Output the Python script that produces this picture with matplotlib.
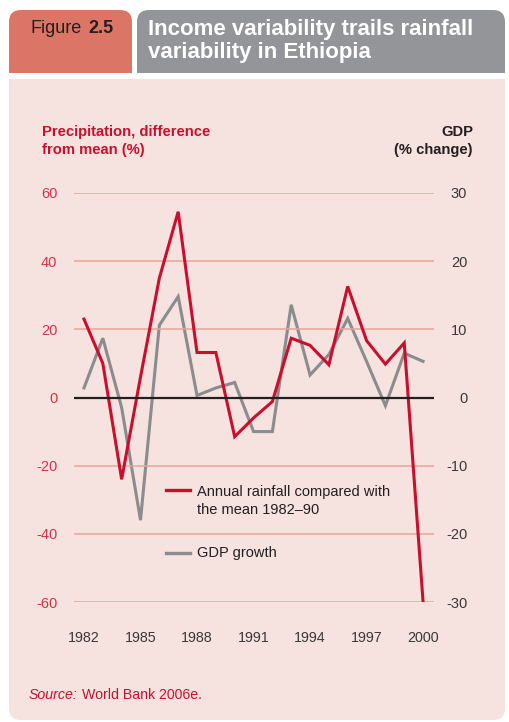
import matplotlib
matplotlib.use("Agg")
import matplotlib.pyplot as plt
from matplotlib.patches import FancyBboxPatch, Rectangle

plt.rcParams["font.family"] = ["Liberation Sans", "DejaVu Sans"]
plt.rcParams["axes.unicode_minus"] = False

# ---- data ----
years = list(range(1982, 2001))
rainfall = [23, 10, -24, 6, 35, 54.5, 13.2, 13.2, -11.5, -6, -1.2, 17.4, 15.3, 9.6,
            32.6, 16.7, 9.8, 16, -60]
gdp = [1.4, 8.7, -1.5, -18, 10.6, 14.8, 0.3, 1.4, 2.2, -5, -5, 13.6, 3.3, 6.3,
       11.6, 5.3, -1.2, 6.5, 5.3]
left_ticks = [-60, -40, -20, 0, 20, 40, 60]
right_ticks = [-30, -20, -10, 0, 10, 20, 30]
x_ticks = [1982, 1985, 1988, 1991, 1994, 1997, 2000]

W, H = 509, 722
RED = "#C8102E"
TICKRED = "#D2334A"
GRAY = "#8A8C8E"
DARK = "#3A3838"
PINK = "#F6E2DE"
GRID = "#E8A597"

fig = plt.figure(figsize=(W / 100, H / 100), dpi=100)
fig.patch.set_facecolor("white")
renderer = fig.canvas.get_renderer()

# background axes in pixel coordinates
bg = fig.add_axes([0, 0, 1, 1])
bg.set_xlim(0, W)
bg.set_ylim(H, 0)
bg.axis("off")


def chain(x, y, parts, **kw):
    """Place text pieces one after another on one baseline (pixel coords)."""
    for txt, extra, gap in parts:
        t = bg.text(x, y, txt, va="baseline", ha="left", **kw, **extra)
        bb = t.get_window_extent(renderer)
        x += bb.width + gap


# header tabs
bg.add_patch(FancyBboxPatch((9, 10), 123, 63, boxstyle="round,pad=0,rounding_size=12",
                            fc="#DB7667", ec="none"))
bg.add_patch(Rectangle((9, 40), 123, 33, fc="#DB7667", ec="none"))
bg.add_patch(FancyBboxPatch((137, 10), 368, 63, boxstyle="round,pad=0,rounding_size=12",
                            fc="#939598", ec="none"))
bg.add_patch(Rectangle((137, 40), 368, 33, fc="#939598", ec="none"))
# pink body
bg.add_patch(FancyBboxPatch((9, 79), 496, 641, boxstyle="round,pad=0,rounding_size=12",
                            fc=PINK, ec="none"))
bg.add_patch(Rectangle((9, 79), 496, 40, fc=PINK, ec="none"))

chain(31, 33, [("Figure", {}, 6), ("2.5", {"fontweight": "bold"}, 0)],
      fontsize=13, color="#231F20")
bg.text(148, 41, "Income variability trails rainfall\nvariability in Ethiopia",
        fontsize=16, color="white", fontweight="bold", va="center", ha="left",
        linespacing=1.1)

# axis titles
bg.text(42, 141, "Precipitation, difference\nfrom mean (%)", fontsize=10.6, color=RED,
        fontweight="bold", va="center", ha="left", linespacing=1.35)
bg.text(473, 141, "GDP\n(% change)", fontsize=10.6, color="#231F20",
        fontweight="bold", va="center", ha="right", multialignment="right",
        linespacing=1.35)

# source
chain(29, 699, [("Source:", {"style": "italic"}, 4), ("World Bank 2006e.", {}, 0)],
      fontsize=10.2, color=RED)

# main axes
L, R, T, B = 74, 434, 193, 602
ax = fig.add_axes([L / W, 1 - B / H, (R - L) / W, (B - T) / H])
ax.patch.set_alpha(0)
ax.set_xlim(1981.47, 2000.58)
ax.set_ylim(-60, 60)
for s in ax.spines.values():
    s.set_visible(False)
ax.set_yticks(left_ticks)
ax.set_xticks(x_ticks)
ax.tick_params(axis="y", length=0, pad=12, labelsize=10.5, labelcolor=TICKRED)
ax.tick_params(axis="x", length=0, pad=21, labelsize=10.3, labelcolor=DARK)
for v in left_ticks:
    if v != 0:
        ax.axhline(v, color=GRID, lw=1.1, zorder=1)

ax2 = ax.twinx()
ax2.set_ylim(-30, 30)
for s in ax2.spines.values():
    s.set_visible(False)
ax2.set_yticks(right_ticks)
ax2.tick_params(axis="y", length=0, pad=24, labelsize=10.5, labelcolor=DARK)
plt.setp(ax2.get_yticklabels(), ha="right")

ax2.plot(years, gdp, color=GRAY, lw=2.2, zorder=3, solid_joinstyle="miter")
ax.set_zorder(ax2.get_zorder() + 1)
ax.plot(years, rainfall, color=RED, lw=2.2, zorder=4, solid_joinstyle="miter")
ax.axhline(0, color="#231F20", lw=1.6, zorder=5)

# legend (manual)
ax.plot([0.256, 0.322], [0.274, 0.274], transform=ax.transAxes, color=RED, lw=2.4)
ax.text(0.342, 0.247, "Annual rainfall compared with\nthe mean 1982\u201390",
        transform=ax.transAxes, fontsize=10.5, color="#231F20", va="center", ha="left",
        linespacing=1.45)
ax.plot([0.256, 0.322], [0.12, 0.12], transform=ax.transAxes, color=GRAY, lw=2.4)
ax.text(0.342, 0.12, "GDP growth", transform=ax.transAxes, fontsize=10.5,
        color="#231F20", va="center", ha="left")

fig.savefig("out.png", dpi=100, facecolor="white")
